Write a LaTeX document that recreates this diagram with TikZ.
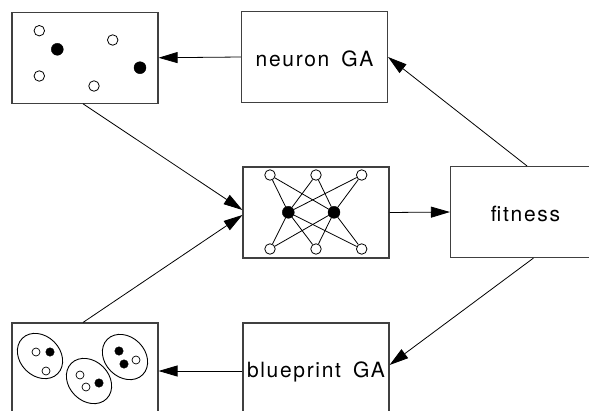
\documentclass[tikz,border=0pt]{standalone}
\usepackage{fontspec}
\usetikzlibrary{arrows.meta,shapes.geometric}
\newfontfamily\boxfont[LetterSpace=8,WordSpace=1.6]{TeX Gyre Heros}
\begin{document}
\begin{tikzpicture}[x=1pt,y=-1pt,
  box/.style={draw=black!75, line width=1.1pt, minimum width=146pt, minimum height=91pt, inner sep=0pt},
  boxtext/.style={font=\boxfont\fontsize{21pt}{25pt}\selectfont, text height=18.5pt, text depth=0pt},
  conn/.style={draw=black, line width=0.8pt, -{Triangle[length=19pt,width=11pt]}},
  wire/.style={draw=black, line width=0.8pt},
  opendot/.style={circle, draw=black, line width=0.8pt, fill=white, inner sep=0pt, minimum size=10.5pt},
  fulldot/.style={circle, draw=black, fill=black, inner sep=0pt, minimum size=12pt},
  smallopen/.style={circle, draw=black, line width=0.7pt, fill=white, inner sep=0pt, minimum size=8pt},
  smallfull/.style={circle, draw=black, fill=black, inner sep=0pt, minimum size=8.5pt},
  blob/.style={ellipse, draw=black, line width=0.9pt, inner sep=0pt, minimum width=50pt, minimum height=40pt, rotate=-45}]
\useasboundingbox (0,0) rectangle (589,410);
\clip (0,0) rectangle (589,410);

% boxes
\node[box] (pool) at (85,57.75) {};
\node[box, boxtext] (ga) at (314.5,57) {neuron GA};
\node[box] (net) at (316,212.5) {};
\node[box, boxtext, minimum width=150pt] (fit) at (525.5,212) {fitness};
\node[box, boxtext] (bp) at (316,368.5) {blueprint GA};
\node[box] (pop) at (85,368.5) {};

% neuron population
\node[opendot] (n1) at (39.3,30.7) {};
\node[fulldot] (n2) at (57.3,49.3) {};
\node[opendot] (n3) at (112.7,40) {};
\node[fulldot] (n4) at (140,67.7) {};
\node[opendot] (n5) at (39.3,76) {};
\node[opendot] (n6) at (94,86) {};

% network: inputs, hidden units, outputs
\node[opendot] (i1) at (270,175) {};
\node[opendot] (i2) at (316,175) {};
\node[opendot] (i3) at (361.7,175) {};
\node[fulldot] (h1) at (288.3,212.3) {};
\node[fulldot] (h2) at (334,212.3) {};
\node[opendot] (o1) at (270,249) {};
\node[opendot] (o2) at (316,249) {};
\node[opendot] (o3) at (361.7,249) {};
\foreach \i in {i1,i2,i3,o1,o2,o3}
  \foreach \h in {h1,h2}
    \draw[wire] (\i) -- (\h);

% blueprint population
\node[blob] (b1) at (40,356) {};
\node[smallopen] (b1a) at (36,352) {};
\node[smallfull] (b1b) at (50,352) {};
\node[smallopen] (b1c) at (46,371) {};
\node[blob] (b2) at (89,381) {};
\node[smallopen] (b2a) at (80,375) {};
\node[smallopen] (b2b) at (86,387) {};
\node[smallfull] (b2c) at (99,383) {};
\node[blob] (b3) at (125,357) {};
\node[smallfull] (b3a) at (119,351) {};
\node[smallfull] (b3b) at (124,364) {};
\node[smallopen] (b3c) at (136,360) {};

% connectors
\draw[conn] (ga.west) -- (pool.east);
\draw[conn] ([xshift=-2pt]pool.south) -- ([yshift=2.5pt]net.west);
\draw[conn] ([xshift=-2pt]pop.north) -- ([yshift=-2.5pt]net.west);
\draw[conn] (net.east) -- (fit.west);
\draw[conn] ([xshift=1.5pt]fit.north) -- (ga.east);
\draw[conn] ([xshift=8pt]fit.south) -- ([yshift=3.5pt]bp.east);
\draw[conn] ([yshift=-2.5pt]bp.west) -- ([yshift=-2.5pt]pop.east);
\end{tikzpicture}
\end{document}
